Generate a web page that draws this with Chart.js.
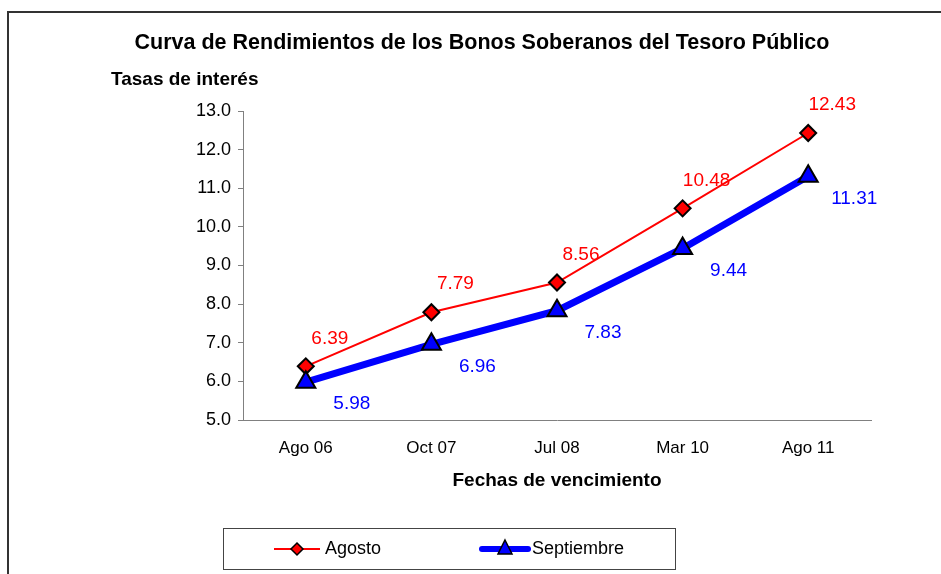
<!DOCTYPE html>
<html>
<head>
<meta charset="utf-8">
<script src="https://cdn.jsdelivr.net/npm/chart.js@4"></script>
<style>
  html, body { margin: 0; padding: 0; background: #fff; }
  #wrap { width: 941px; height: 574px; position: relative; }
</style>
</head>
<body>
<div id="wrap"><canvas id="curvaChart" width="941" height="574"></canvas></div>
<script>
// datos de la curva
const fechas = ['Ago 06', 'Oct 07', 'Jul 08', 'Mar 10', 'Ago 11'];
const agosto = [6.39, 7.79, 8.56, 10.48, 12.43];
const septiembre = [5.98, 6.96, 7.83, 9.44, 11.31];
const ejeY = { min: 5, max: 13, paso: 1 };

const FUENTE = 'Arial, "Liberation Sans", sans-serif';

// marco, titulos, etiquetas de datos y leyenda dibujados a mano
const decoracion = {
    id: 'decoracion',
    afterDraw(chart) {
        const ctx = chart.ctx;
        const area = chart.chartArea;
        ctx.save();

        // marco exterior
        ctx.strokeStyle = '#333333';
        ctx.lineWidth = 2;
        ctx.strokeRect(8, 12, 1000, 1000);

        ctx.fillStyle = '#000';
        ctx.textBaseline = 'middle';
        ctx.textAlign = 'center';
        ctx.font = 'bold 21.5px ' + FUENTE;
        ctx.fillText('Curva de Rendimientos de los Bonos Soberanos del Tesoro Público', 482, 43);

        ctx.textAlign = 'left';
        ctx.font = 'bold 19px ' + FUENTE;
        ctx.fillText('Tasas de interés', 111, 80);

        ctx.textAlign = 'center';
        ctx.fillText('Fechas de vencimiento', (area.left + area.right) / 2, 481);

        // etiquetas de valores
        ctx.font = '19px ' + FUENTE;
        const desplaz = [[24, -28], [46, 22]];
        chart.data.datasets.forEach((ds, i) => {
            const meta = chart.getDatasetMeta(i);
            ctx.fillStyle = ds.borderColor;
            meta.data.forEach((pt, j) => {
                ctx.fillText(ds.data[j].toFixed(2), pt.x + desplaz[i][0], pt.y + desplaz[i][1]);
            });
        });

        // leyenda
        ctx.strokeStyle = '#444';
        ctx.lineWidth = 1;
        ctx.strokeRect(223.5, 528.5, 452, 41);
        const yl = 549;
        // Agosto
        ctx.strokeStyle = '#ff0000';
        ctx.lineWidth = 2;
        ctx.beginPath(); ctx.moveTo(274, yl); ctx.lineTo(320, yl); ctx.stroke();
        ctx.fillStyle = '#ff0000';
        ctx.strokeStyle = '#000';
        ctx.lineWidth = 1.5;
        ctx.beginPath();
        ctx.moveTo(297, yl - 6); ctx.lineTo(303, yl); ctx.lineTo(297, yl + 6); ctx.lineTo(291, yl);
        ctx.closePath(); ctx.fill(); ctx.stroke();
        // Septiembre
        ctx.strokeStyle = '#0000ff';
        ctx.lineWidth = 6;
        ctx.lineCap = 'round';
        ctx.beginPath(); ctx.moveTo(482, yl); ctx.lineTo(528, yl); ctx.stroke();
        ctx.fillStyle = '#0000ff';
        ctx.strokeStyle = '#000';
        ctx.lineWidth = 1.5;
        ctx.beginPath();
        ctx.moveTo(505, yl - 9); ctx.lineTo(512, yl + 5); ctx.lineTo(498, yl + 5);
        ctx.closePath(); ctx.fill(); ctx.stroke();

        ctx.fillStyle = '#000';
        ctx.textAlign = 'left';
        ctx.font = '18px ' + FUENTE;
        ctx.fillText('Agosto', 325, yl);
        ctx.fillText('Septiembre', 532, yl);

        ctx.restore();
    }
};

const ctx = document.getElementById('curvaChart').getContext('2d');
new Chart(ctx, {
    type: 'line',
    data: {
        labels: fechas,
        datasets: [{
            label: 'Agosto',
            data: agosto,
            borderColor: '#ff0000',
            borderWidth: 2,
            pointStyle: 'rectRot',
            pointRadius: 8,
            pointBackgroundColor: '#ff0000',
            pointBorderColor: '#000',
            pointBorderWidth: 2,
            tension: 0,
            order: 2
        }, {
            label: 'Septiembre',
            data: septiembre,
            borderColor: '#0000ff',
            borderWidth: 7,
            pointStyle: 'triangle',
            pointRadius: 11,
            pointBackgroundColor: '#0000ff',
            pointBorderColor: '#000',
            pointBorderWidth: 2,
            tension: 0,
            order: 1
        }]
    },
    options: {
        responsive: false,
        animation: false,
        layout: { padding: { top: 111, right: 70, left: 0, bottom: 0 } },
        plugins: {
            legend: { display: false },
            title: { display: false },
            tooltip: { enabled: false }
        },
        scales: {
            x: {
                offset: true,
                grid: { display: false },
                border: { display: true, color: '#808080', width: 1 },
                ticks: { color: '#000', padding: 10, font: { size: 17, family: FUENTE } },
                afterFit: (s) => { s.height = 574 - 420; }
            },
            y: {
                min: ejeY.min,
                max: ejeY.max,
                grid: { drawOnChartArea: false, drawTicks: true, tickLength: 5, color: '#808080' },
                border: { display: true, color: '#808080', width: 1 },
                ticks: {
                    stepSize: ejeY.paso,
                    color: '#000',
                    padding: 7,
                    font: { size: 18, family: FUENTE },
                    callback: (v) => v.toFixed(1)
                },
                afterFit: (s) => { s.width = 243; }
            }
        }
    },
    plugins: [decoracion]
});
</script>
</body>
</html>
